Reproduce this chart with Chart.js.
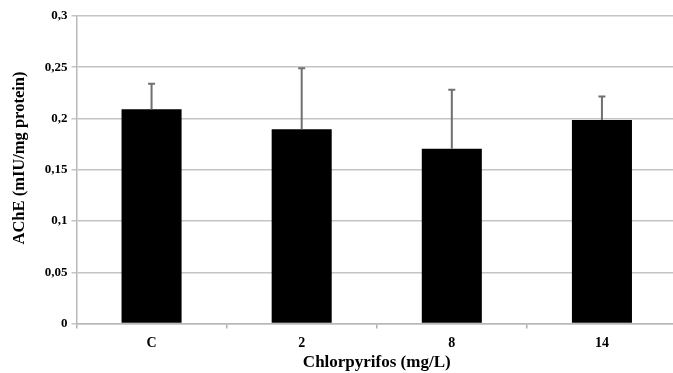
<!DOCTYPE html>
<html><head><meta charset="utf-8">
<script src="https://cdn.jsdelivr.net/npm/chart.js@4"></script>
<style>html,body{margin:0;padding:0;background:#fff;overflow:hidden}#wrap{width:677px;height:373px}</style>
</head><body><div id="wrap"><canvas id="c"></canvas></div>
<script>
const categories = ["C", "2", "8", "14"];
const meanValues = [0.209, 0.1895, 0.1705, 0.1985];
const errorValues = [0.025, 0.0595, 0.0575, 0.023];
const yTickValues = [0, 0.05, 0.1, 0.15, 0.2, 0.25, 0.3];
const yTitle = "AChE (mIU/mg protein)";
const xTitle = "Chlorpyrifos (mg/L)";

const serif = "'Liberation Serif','Times New Roman',serif";

const errorBarPlugin = {
  id: 'errorBars',
  afterDatasetsDraw(chart) {
    const ctx = chart.ctx;
    const meta = chart.getDatasetMeta(0);
    const y = chart.scales.y;
    ctx.save();
    ctx.strokeStyle = '#707070';
    ctx.lineWidth = 2;
    meta.data.forEach((bar, i) => {
      const yTop = y.getPixelForValue(meanValues[i] + errorValues[i]);
      const yBase = y.getPixelForValue(meanValues[i]);
      ctx.beginPath();
      ctx.moveTo(bar.x, yBase);
      ctx.lineTo(bar.x, yTop);
      ctx.moveTo(bar.x - 3.5, yTop);
      ctx.lineTo(bar.x + 3.5, yTop);
      ctx.stroke();
    });
    ctx.restore();
  }
};

const yTitlePlugin = {
  id: 'yTitle',
  afterDraw(chart) {
    const ctx = chart.ctx;
    ctx.save();
    ctx.translate(20, 158);
    ctx.rotate(-Math.PI / 2);
    ctx.font = "bold 16.5px " + serif;
    ctx.fillStyle = '#000';
    ctx.textAlign = 'center';
    ctx.textBaseline = 'middle';
    ctx.fillText(yTitle, 0, 0);
    ctx.restore();
  }
};

new Chart(document.getElementById('c'), {
  type: 'bar',
  data: {
    labels: categories,
    datasets: [{
      data: meanValues,
      backgroundColor: '#000',
      borderWidth: 0,
      barPercentage: 0.4,
      categoryPercentage: 1.0
    }]
  },
  options: {
    responsive: true,
    maintainAspectRatio: false,
    animation: false,
    devicePixelRatio: 1,
    layout: { padding: { top: 16, right: 0, left: 0, bottom: 0 } },
    plugins: { legend: { display: false }, tooltip: { enabled: false } },
    scales: {
      x: {
        offset: true,
        grid: { display: true, drawOnChartArea: false, offset: true, tickLength: 5, color: '#b0b0b0', lineWidth: 1.5 },
        border: { display: true, color: '#b8b8b8', width: 1.5 },
        ticks: { color: '#000', font: { family: serif, weight: 'bold', size: 14 }, padding: 6 },
        title: { display: true, text: xTitle, color: '#000', font: { family: serif, weight: 'bold', size: 17 }, padding: { top: 0, bottom: 0 } },
        afterFit(s) { s.height = 49.5; }
      },
      y: {
        min: 0, max: 0.3,
        afterBuildTicks(s) { s.ticks = yTickValues.map(v => ({ value: v })); },
        grid: { color: '#c4c4c4', lineWidth: 1.5, tickLength: 5 },
        border: { display: true, color: '#b8b8b8', width: 1.5 },
        ticks: {
          color: '#000', font: { family: serif, weight: 'bold', size: 13 }, padding: 4,
          callback: v => String(v).replace('.', ',')
        },
        title: { display: false },
        afterFit(s) { s.width = 76.5; }
      }
    }
  },
  plugins: [errorBarPlugin, yTitlePlugin]
});
</script></body></html>
